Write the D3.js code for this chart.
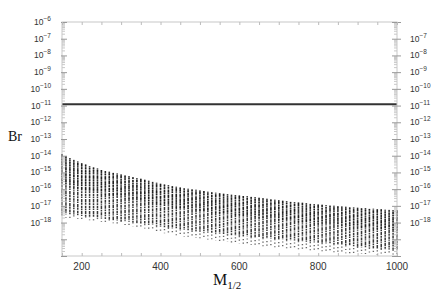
<!DOCTYPE html>
<html>
<head>
<meta charset="utf-8">
<script src="https://cdn.jsdelivr.net/npm/d3@7"></script>
<style>
  html, body { margin: 0; padding: 0; background: #fff; }
  svg { display: block; }
  .tick-lab { font-family: "Liberation Sans", Arial, sans-serif; fill: #333; }
  .serif { font-family: "Liberation Serif", "DejaVu Serif", serif; fill: #111; }
</style>
</head>
<body>
<div id="chart"></div>
<script>
// scan points in M_1/2 (GeV)
const mValues = [
  150, 160, 170, 180, 190, 200, 210, 220, 230, 240, 250, 260, 270, 280, 290,
  300, 310, 320, 330, 340, 350, 360, 370, 380, 390, 400, 410, 420, 430, 440,
  450, 460, 470, 480, 490, 500, 510, 520, 530, 540, 550, 560, 570, 580, 590,
  600, 610, 620, 630, 640, 650, 660, 670, 680, 690, 700, 710, 720, 730, 740,
  750, 760, 770, 780, 790, 800, 810, 820, 830, 840, 850, 860, 870, 880, 890,
  900, 910, 920, 930, 940, 950, 960, 970, 980, 990, 1000
];
// log10(Br) top of each column
const logTop = [
  -13.90, -14.02, -14.13, -14.24, -14.35, -14.45, -14.53, -14.61, -14.69, -14.77,
  -14.85, -14.91, -14.96, -15.02, -15.07, -15.13, -15.18, -15.23, -15.28, -15.33,
  -15.38, -15.44, -15.50, -15.56, -15.62, -15.68, -15.72, -15.77, -15.81, -15.86,
  -15.90, -15.94, -15.97, -16.01, -16.04, -16.08, -16.11, -16.15, -16.18, -16.22,
  -16.25, -16.28, -16.30, -16.33, -16.35, -16.38, -16.41, -16.43, -16.46, -16.49,
  -16.52, -16.55, -16.58, -16.61, -16.64, -16.67, -16.69, -16.72, -16.75, -16.77,
  -16.80, -16.82, -16.85, -16.87, -16.90, -16.92, -16.94, -16.96, -16.98, -17.00,
  -17.02, -17.04, -17.06, -17.08, -17.10, -17.12, -17.14, -17.15, -17.17, -17.18,
  -17.20, -17.21, -17.23, -17.24, -17.26, -17.27
];
// log10(Br) bottom of the dense part of each column
const logBottom = [
  -17.50, -17.52, -17.54, -17.56, -17.58, -17.60, -17.63, -17.66, -17.69, -17.72,
  -17.75, -17.78, -17.81, -17.84, -17.87, -17.90, -17.93, -17.96, -17.99, -18.02,
  -18.05, -18.09, -18.13, -18.17, -18.21, -18.25, -18.28, -18.31, -18.34, -18.37,
  -18.40, -18.43, -18.46, -18.49, -18.52, -18.55, -18.57, -18.59, -18.61, -18.63,
  -18.65, -18.68, -18.71, -18.74, -18.77, -18.80, -18.82, -18.84, -18.86, -18.88,
  -18.90, -18.92, -18.94, -18.96, -18.98, -19.00, -19.02, -19.04, -19.06, -19.08,
  -19.10, -19.12, -19.14, -19.16, -19.18, -19.20, -19.22, -19.24, -19.26, -19.28,
  -19.30, -19.33, -19.36, -19.39, -19.42, -19.45, -19.47, -19.49, -19.51, -19.53,
  -19.55, -19.57, -19.59, -19.61, -19.63, -19.65
];
// log10(Br) lowest stray points of each column
const logTail = [
  -17.70, -17.72, -17.74, -17.76, -17.78, -17.80, -17.83, -17.86, -17.89, -17.92,
  -17.95, -17.98, -18.01, -18.04, -18.07, -18.10, -18.14, -18.18, -18.22, -18.26,
  -18.30, -18.36, -18.42, -18.48, -18.54, -18.60, -18.64, -18.68, -18.72, -18.76,
  -18.80, -18.83, -18.86, -18.89, -18.92, -18.95, -18.98, -19.01, -19.04, -19.07,
  -19.10, -19.13, -19.16, -19.19, -19.22, -19.25, -19.28, -19.31, -19.34, -19.37,
  -19.40, -19.42, -19.44, -19.46, -19.48, -19.50, -19.52, -19.55, -19.57, -19.60,
  -19.62, -19.64, -19.66, -19.68, -19.70, -19.72, -19.74, -19.75, -19.77, -19.78,
  -19.80, -19.81, -19.83, -19.84, -19.86, -19.87, -19.88, -19.89, -19.90, -19.91,
  -19.92, -19.93, -19.94, -19.94, -19.95, -19.96
];
const expLimit = 1.2e-11;
const xTicks = [200, 400, 600, 800, 1000];
const xMinor = [150, 200, 250, 300, 350, 400, 450, 500, 550, 600, 650, 700, 750, 800, 850, 900, 950, 1000];
const leftLabelExp = [-6, -7, -8, -9, -10, -11, -12, -13, -14, -15, -16, -17, -18];
const rightLabelExp = [-7, -8, -9, -10, -11, -12, -13, -14, -15, -16, -17, -18];

const width = 436, height = 305;
const margin = { top: 22, right: 39, bottom: 49, left: 62 };

const svg = d3.select('#chart').append('svg')
  .attr('width', width)
  .attr('height', height);

const x = d3.scaleLinear().domain([150, 1000]).range([margin.left, width - margin.right]);
const y = d3.scaleLog().domain([1e-20, 1e-6]).range([height - margin.bottom, margin.top]);

const decades = d3.range(-20, -5).map(function(e) { return Math.pow(10, e); });
const minors = [];
decades.slice(0, -1).forEach(function(d) {
  for (let k = 2; k <= 9; k++) minors.push(d * k);
});

// data columns
const cols = svg.append('g');
mValues.forEach(function(m, i) {
  const yTop = y(Math.pow(10, logTop[i]));
  const yBot = y(Math.pow(10, logBottom[i]));
  cols.append('line')
    .attr('x1', x(m)).attr('x2', x(m))
    .attr('y1', yBot)
    .attr('y2', y(Math.pow(10, logTail[i])))
    .attr('stroke', '#000')
    .attr('stroke-width', 1.4)
    .attr('stroke-dasharray', '1.2,2.4')
    .attr('stroke-dashoffset', (i % 3) * 0.9)
    .attr('opacity', 0.6);
  cols.append('line')
    .attr('x1', x(m)).attr('x2', x(m))
    .attr('y1', yTop)
    .attr('y2', yBot)
    .attr('stroke', '#000')
    .attr('stroke-width', 1.5)
    .attr('stroke-dasharray', '3.5,0.6,1.8,0.8,2.6,0.5,1.2,0.9')
    .attr('stroke-dashoffset', (i % 5) * 1.3)
    .attr('opacity', 0.78);
  // darker upper band of each column
  cols.append('line')
    .attr('x1', x(m)).attr('x2', x(m))
    .attr('y1', yTop)
    .attr('y2', yTop + (yBot - yTop) * 0.5)
    .attr('stroke', '#000')
    .attr('stroke-width', 1.5)
    .attr('stroke-dasharray', '4,0.8,2.5,1')
    .attr('stroke-dashoffset', (i % 4) * 1.1)
    .attr('opacity', 0.45);
});

// experimental limit
svg.append('line')
  .attr('x1', x(150)).attr('x2', x(1000))
  .attr('y1', y(expLimit)).attr('y2', y(expLimit))
  .attr('stroke', '#333')
  .attr('stroke-width', 2);

// frame
svg.append('rect')
  .attr('x', x(150)).attr('y', y(1e-6))
  .attr('width', x(1000) - x(150))
  .attr('height', y(1e-20) - y(1e-6))
  .attr('fill', 'none')
  .attr('stroke', '#c8c8c8')
  .attr('stroke-width', 1);

function styleAxis(g, col) {
  g.select('.domain').remove();
  g.selectAll('.tick line').attr('stroke', col);
  g.selectAll('.tick text').remove();
}

// left axis
svg.append('g').attr('transform', 'translate(' + x(150) + ',0)')
  .call(d3.axisRight(y).tickValues(minors).tickSize(3))
  .call(function(g) { styleAxis(g, '#c8c8c8'); });
svg.append('g').attr('transform', 'translate(' + (x(150) - 1) + ',0)')
  .call(d3.axisRight(y).tickValues(decades).tickSize(6))
  .call(function(g) { styleAxis(g, '#999'); });

// right axis
svg.append('g').attr('transform', 'translate(' + x(1000) + ',0)')
  .call(d3.axisLeft(y).tickValues(minors).tickSize(3))
  .call(function(g) { styleAxis(g, '#c8c8c8'); });
svg.append('g').attr('transform', 'translate(' + (x(1000) + 4) + ',0)')
  .call(d3.axisLeft(y).tickValues(decades).tickSize(9))
  .call(function(g) { styleAxis(g, '#999'); });

// top and bottom minor ticks
svg.append('g').attr('transform', 'translate(0,' + y(1e-6) + ')')
  .call(d3.axisBottom(x).tickValues(xMinor).tickSize(3))
  .call(function(g) { styleAxis(g, '#bbb'); });
svg.append('g').attr('transform', 'translate(0,' + y(1e-20) + ')')
  .call(d3.axisTop(x).tickValues(xMinor).tickSize(3))
  .call(function(g) { styleAxis(g, '#bbb'); });

// x tick labels
svg.append('g').selectAll('text')
  .data(xTicks).enter().append('text')
  .attr('class', 'tick-lab')
  .attr('x', function(d) { return x(d); })
  .attr('y', 270)
  .attr('text-anchor', 'middle')
  .style('font-size', '10px')
  .text(function(d) { return d; });

function powLabel(sel, xpos, anchor) {
  sel.attr('class', 'tick-lab')
    .attr('x', xpos)
    .attr('y', function(d) { return y(Math.pow(10, d)) + 3; })
    .attr('text-anchor', anchor)
    .style('font-size', '8.5px');
  sel.append('tspan').text('10');
  sel.append('tspan')
    .attr('dy', -4)
    .style('font-size', '6.5px')
    .text(function(d) { return '\u2212' + Math.abs(d); });
}

svg.append('g').selectAll('text')
  .data(leftLabelExp).enter().append('text')
  .call(powLabel, 51, 'end');
svg.append('g').selectAll('text')
  .data(rightLabelExp).enter().append('text')
  .call(powLabel, 410, 'start');

// axis titles
svg.append('text')
  .attr('class', 'serif')
  .attr('x', 8).attr('y', 141)
  .style('font-size', '14px')
  .text('Br');

const xt = svg.append('text')
  .attr('class', 'serif')
  .attr('x', 213).attr('y', 285)
  .style('font-size', '16px');
xt.append('tspan').text('M');
xt.append('tspan').attr('dy', 4).style('font-size', '11px').text('1/2');
</script>
</body>
</html>
